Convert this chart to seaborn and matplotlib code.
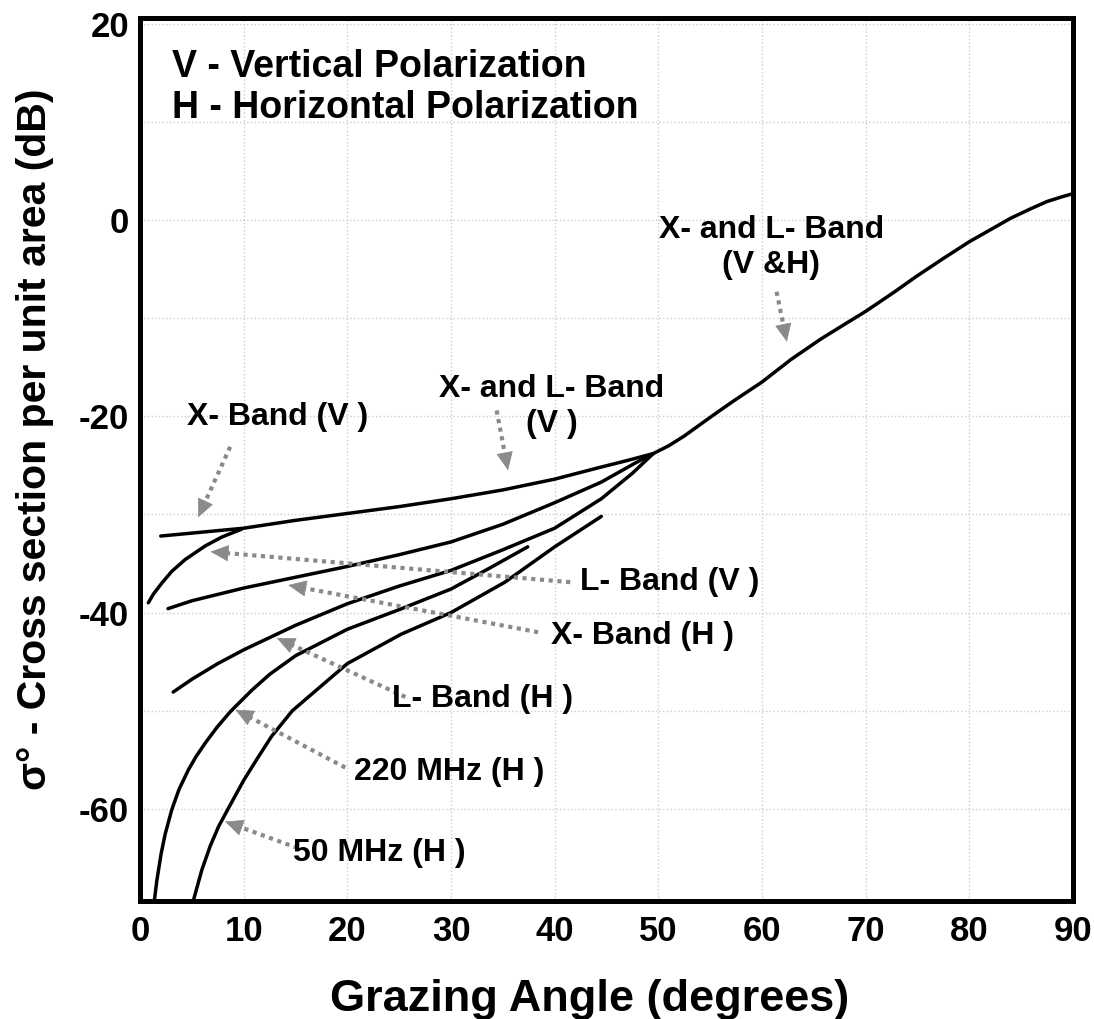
import numpy as np
import pandas as pd
import matplotlib
matplotlib.use("Agg")
import matplotlib.pyplot as plt
import seaborn as sns

# curves (grazing angle in degrees, sigma0 in dB)
xv_angle = [2.0, 5.0, 10.0, 15.0, 20.0, 25.0, 30.0, 35.0, 40.0, 44.0, 47.0, 49.5]
xv_sigma = [-32.2, -31.9, -31.4, -30.6, -29.9, -29.2, -28.4, -27.5, -26.4, -25.3, -24.5, -23.8]

lv_angle = [0.8, 1.3, 2.1, 3.06, 4.35, 6.3, 7.9, 9.8]
lv_sigma = [-39.0, -38.1, -37.0, -35.8, -34.6, -33.2, -32.3, -31.5]

xh_angle = [2.7, 5.0, 10.0, 15.0, 20.0, 25.0, 30.0, 35.0, 40.0, 44.5, 47.7, 49.5]
xh_sigma = [-39.6, -38.8, -37.5, -36.4, -35.3, -34.1, -32.8, -31.0, -28.8, -26.7, -24.8, -23.8]

lh_angle = [3.2, 5.0, 7.5, 10.0, 15.0, 20.0, 25.0, 30.0, 35.0, 40.0, 44.5, 47.5, 49.5]
lh_sigma = [-48.1, -46.8, -45.2, -43.8, -41.3, -39.1, -37.3, -35.7, -33.6, -31.4, -28.4, -25.8, -23.8]

mhz220_angle = [1.39, 1.61, 2.03, 2.42, 3.06, 3.77, 4.68, 5.39, 6.29, 7.42, 8.71, 10.8,
                12.5, 15.0, 20.0, 25.0, 30.0, 33.5, 37.4]
mhz220_sigma = [-69.3, -67.4, -64.6, -62.6, -60.1, -58.0, -56.0, -54.7, -53.3, -51.7, -50.1, -47.9,
                -46.3, -44.4, -41.7, -39.7, -37.6, -35.6, -33.3]

mhz50_angle = [5.16, 5.97, 6.77, 7.58, 8.55, 10.0, 11.3, 12.7, 14.7, 17.9, 20.0, 25.2,
               30.0, 35.2, 40.0, 44.5]
mhz50_sigma = [-69.3, -66.2, -63.8, -61.8, -59.9, -57.1, -54.9, -52.6, -50.0, -47.1, -45.2, -42.2,
               -40.0, -36.9, -33.3, -30.2]

vh_angle = [49.5, 51.0, 52.5, 55.4, 57.3, 60.0, 62.8, 65.7, 68.3, 70.0, 72.8, 74.8,
            77.5, 80.0, 82.0, 84.0, 86.0, 87.5, 89.0, 90.0]
vh_sigma = [-23.8, -23.0, -22.0, -19.8, -18.4, -16.5, -14.2, -12.1, -10.4, -9.3, -7.3, -5.8,
            -3.9, -2.2, -1.0, 0.2, 1.2, 1.9, 2.4, 2.7]

curves = {
    "xv": (xv_angle, xv_sigma),
    "lv": (lv_angle, lv_sigma),
    "xh": (xh_angle, xh_sigma),
    "lh": (lh_angle, lh_sigma),
    "220": (mhz220_angle, mhz220_sigma),
    "50": (mhz50_angle, mhz50_sigma),
    "vh": (vh_angle, vh_sigma),
}
df = pd.concat(
    [pd.DataFrame({"angle": a, "sigma": s, "curve": k}) for k, (a, s) in curves.items()],
    ignore_index=True,
)

# label text, label position, arrow tail, arrow head
labels = [
    ("X- and L- Band\n(V &H)", (60.9, -2.8), (61.4, -7.3), (62.4, -12.4)),
    ("X- and L- Band\n(V )", (39.7, -19.0), (34.4, -19.4), (35.5, -25.5)),
    ("X- Band (V )", (13.3, -20.1), (8.7, -23.1), (5.6, -30.3)),
    ("L- Band (V )", (51.1, -36.9), (41.5, -36.9), (6.8, -33.8)),
    ("X- Band (H )", (48.5, -42.4), (38.4, -42.0), (14.3, -37.2)),
    ("L- Band (H )", (33.0, -48.8), (25.6, -48.6), (13.2, -42.6)),
    ("220 MHz (H )", (29.8, -56.3), (19.8, -55.8), (9.2, -49.9)),
    ("50 MHz (H )", (23.1, -64.5), (15.2, -64.0), (8.2, -61.3)),
]

sns.set_style("white")
plt.rcParams["font.family"] = ["Liberation Sans", "DejaVu Sans"]
plt.rcParams["font.weight"] = "bold"
for key in ["text.color", "axes.labelcolor", "xtick.color", "ytick.color"]:
    plt.rcParams[key] = "black"

fig = plt.figure(figsize=(10.94, 10.19), dpi=100)
ax = fig.add_axes([0.128, 0.1158, 0.8528, 0.8665])

sns.lineplot(data=df, x="angle", y="sigma", units="curve", estimator=None,
             sort=False, color="black", linewidth=2.5, ax=ax)

ax.set_xlim(0, 90)
ax.set_ylim(-69.4, 20.6)
ax.set_xticks(np.arange(0, 91, 10))
yt = np.arange(-60, 21, 10)
ax.set_yticks(yt)
ax.set_yticklabels([str(v) if v % 20 == 0 else "" for v in yt])
ax.grid(True, color="#cccccc", linestyle=":", linewidth=1.0)
ax.tick_params(direction="in", length=11, width=2.2, labelsize=25, pad=10)
ax.tick_params(axis="y", pad=8)
for sp in ax.spines.values():
    sp.set_linewidth(3.6)
    sp.set_color("black")

ax.set_xlabel("Grazing Angle (degrees)", fontsize=32.5, fontweight="bold")
ax.xaxis.set_label_coords(0.482, -0.088)
ax.set_ylabel("σ° - Cross section per unit area (dB)", fontsize=29.5, fontweight="bold")
ax.yaxis.set_label_coords(-0.092, 0.523)

ax.text(3.1, 15.6, "V - Vertical Polarization", fontsize=27, fontweight="bold",
        ha="left", va="center")
ax.text(3.1, 11.4, "H - Horizontal Polarization", fontsize=27, fontweight="bold",
        ha="left", va="center")

to_disp = ax.transData
to_data = ax.transData.inverted()
head_px = 17
for text, pos, tail, head in labels:
    ax.text(pos[0], pos[1], text, fontsize=23, fontweight="bold", ha="center",
            va="center", linespacing=1.2)
    t_d = to_disp.transform(tail)
    h_d = to_disp.transform(head)
    u = (h_d - t_d) / np.hypot(*(h_d - t_d))
    base = to_data.transform(h_d - u * (head_px - 2))
    ax.plot([tail[0], base[0]], [tail[1], base[1]], color="#8a8a8a", lw=3.0,
            linestyle=(0, (1.0, 1.1)), dash_capstyle="butt")
    ax.annotate("", xy=head, xytext=(-u[0] * head_px, -u[1] * head_px),
                textcoords="offset pixels",
                arrowprops=dict(arrowstyle="-|>,head_length=1.1,head_width=0.5",
                                color="#8a8a8a", lw=0.5, shrinkA=0, shrinkB=0,
                                mutation_scale=11))

fig.savefig("out.png", dpi=100)
